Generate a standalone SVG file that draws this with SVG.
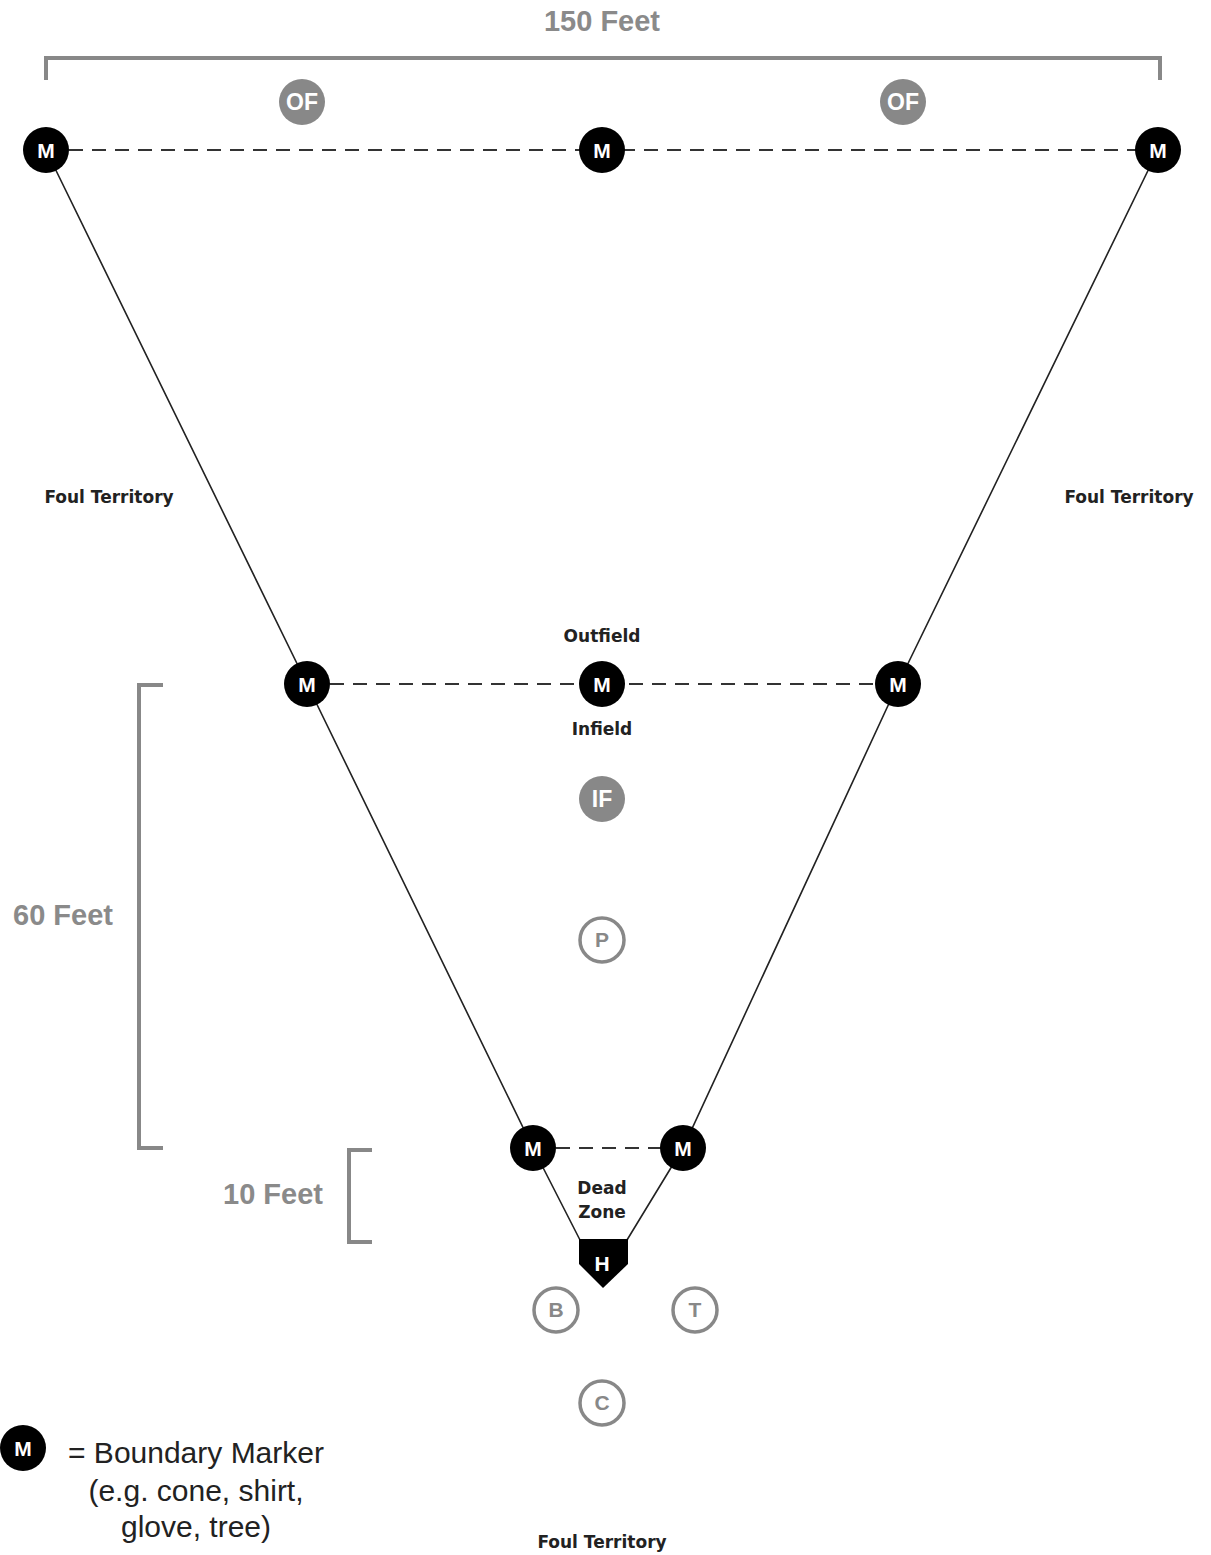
<svg xmlns="http://www.w3.org/2000/svg" width="1211" height="1555" viewBox="0 0 1211 1555">
<style>
.bg{fill:#fff}
.line{stroke:#222;stroke-width:1.6;fill:none}
.dash{stroke:#333;stroke-width:2;fill:none;stroke-dasharray:14 9}
.brk{stroke:#888;stroke-width:4;fill:none}
.m{fill:#000}
.mt{fill:#fff;font-family:"Liberation Sans",Arial,sans-serif;font-weight:bold;font-size:21px;text-anchor:middle}
.gf{fill:#888}
.gt{fill:#fff;font-family:"Liberation Sans",Arial,sans-serif;font-weight:bold;font-size:23px;text-anchor:middle}
.go{fill:#fff;stroke:#888;stroke-width:3.5}
.got{fill:#888;font-family:"Liberation Sans",Arial,sans-serif;font-weight:bold;font-size:21px;text-anchor:middle}
.lbl{fill:#222;font-family:"DejaVu Sans",Verdana,sans-serif;font-weight:bold;font-size:17px;text-anchor:middle}
.dim{fill:#8a8a8a;font-family:"Liberation Sans",Arial,sans-serif;font-weight:bold;font-size:29px;text-anchor:middle}
.leg{fill:#222;font-family:"Liberation Sans",Arial,sans-serif;font-size:30px;text-anchor:middle}
</style>
<rect class="bg" width="1211" height="1555"/>
<g id="connectors">
<polyline class="line" points="46,150 307,684 533,1148 580,1240"/>
<polyline class="line" points="1158,150 898,684 683,1148 627,1240"/>
<line class="dash" x1="46" y1="150" x2="1158" y2="150"/>
<line class="dash" x1="307" y1="684" x2="898" y2="684"/>
<line class="dash" x1="533" y1="1148" x2="683" y2="1148"/>
</g>
<g id="dimensions">
<polyline class="brk" points="46,80 46,58 1160,58 1160,80"/>
<text class="dim" x="602" y="31">150 Feet</text>
<polyline class="brk" points="163,685 139,685 139,1148 163,1148"/>
<text class="dim" x="63" y="925">60 Feet</text>
<polyline class="brk" points="372,1150 349,1150 349,1242 372,1242"/>
<text class="dim" x="273" y="1204">10 Feet</text>
</g>
<g id="labels">
<text class="lbl" x="109" y="503">Foul Territory</text>
<text class="lbl" x="1129" y="503">Foul Territory</text>
<text class="lbl" x="602" y="1548">Foul Territory</text>
<text class="lbl" x="602" y="642">Outfield</text>
<text class="lbl" x="602" y="735">Infield</text>
<text class="lbl" x="602" y="1194">Dead</text>
<text class="lbl" x="602" y="1218">Zone</text>
</g>
<g id="m-top-left"><circle class="m" cx="46" cy="150" r="23"/><text class="mt" x="46" y="158">M</text></g>
<g id="m-top-mid"><circle class="m" cx="602" cy="150" r="23"/><text class="mt" x="602" y="158">M</text></g>
<g id="m-top-right"><circle class="m" cx="1158" cy="150" r="23"/><text class="mt" x="1158" y="158">M</text></g>
<g id="m-mid-left"><circle class="m" cx="307" cy="684" r="23"/><text class="mt" x="307" y="692">M</text></g>
<g id="m-mid-mid"><circle class="m" cx="602" cy="684" r="23"/><text class="mt" x="602" y="692">M</text></g>
<g id="m-mid-right"><circle class="m" cx="898" cy="684" r="23"/><text class="mt" x="898" y="692">M</text></g>
<g id="m-low-left"><circle class="m" cx="533" cy="1148" r="23"/><text class="mt" x="533" y="1156">M</text></g>
<g id="m-low-right"><circle class="m" cx="683" cy="1148" r="23"/><text class="mt" x="683" y="1156">M</text></g>
<g id="of-left"><circle class="gf" cx="302" cy="102" r="23"/><text class="gt" x="302" y="110">OF</text></g>
<g id="of-right"><circle class="gf" cx="903" cy="102" r="23"/><text class="gt" x="903" y="110">OF</text></g>
<g id="if"><circle class="gf" cx="602" cy="799" r="23"/><text class="gt" x="602" y="807">IF</text></g>
<g id="p"><circle class="go" cx="602" cy="940" r="22"/><text class="got" x="602" y="947">P</text></g>
<g id="b"><circle class="go" cx="556" cy="1310" r="22"/><text class="got" x="556" y="1317">B</text></g>
<g id="t"><circle class="go" cx="695" cy="1310" r="22"/><text class="got" x="695" y="1317">T</text></g>
<g id="c"><circle class="go" cx="602" cy="1403" r="22"/><text class="got" x="602" y="1410">C</text></g>
<g id="home"><polygon class="m" points="579,1239 628,1239 628,1264 603,1288 579,1264"/><text class="mt" x="602" y="1271">H</text></g>
<g id="legend">
<circle class="m" cx="23" cy="1448" r="23"/><text class="mt" x="23" y="1456">M</text>
<text class="leg" x="196" y="1463">= Boundary Marker</text>
<text class="leg" x="196" y="1501">(e.g. cone, shirt,</text>
<text class="leg" x="196" y="1537">glove, tree)</text>
</g>
</svg>
